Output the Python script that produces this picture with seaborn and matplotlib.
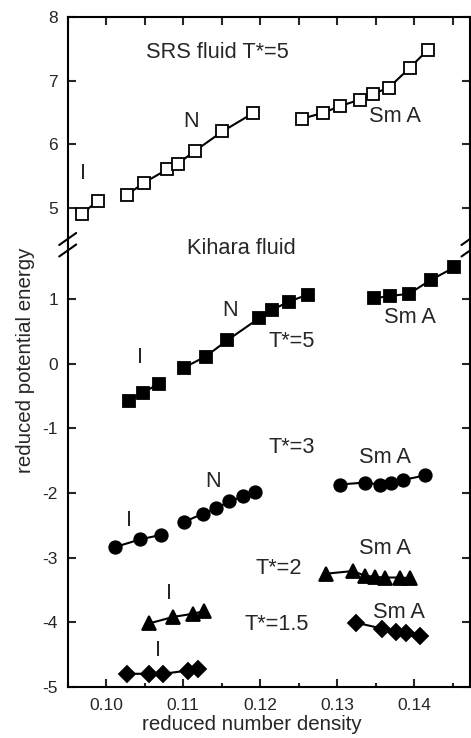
import numpy as np
import pandas as pd
import matplotlib
matplotlib.use("Agg")
import matplotlib.pyplot as plt
import seaborn as sns
from matplotlib.lines import Line2D
from matplotlib.ticker import MultipleLocator

# ---------------- data ----------------
# SRS fluid, T*=5 (open squares)
srs_I_x = [0.0968, 0.0989]
srs_I_y = [4.90, 5.10]
srs_N_x = [0.1027, 0.1049, 0.1079, 0.1093, 0.1115, 0.1151, 0.1191]
srs_N_y = [5.20, 5.39, 5.60, 5.69, 5.89, 6.20, 6.49]
srs_S_x = [0.1254, 0.1281, 0.1304, 0.1329, 0.1346, 0.1367, 0.1394, 0.1418]
srs_S_y = [6.40, 6.49, 6.60, 6.70, 6.79, 6.89, 7.20, 7.49]

# Kihara fluid, T*=5 (filled squares)
k5_I_x = [0.1029, 0.1048, 0.1068]
k5_I_y = [-0.57, -0.45, -0.31]
k5_N_x = [0.1101, 0.1129, 0.1157, 0.1198, 0.1215, 0.1237, 0.1262]
k5_N_y = [-0.06, 0.11, 0.36, 0.70, 0.83, 0.96, 1.07]
k5_S_x = [0.1348, 0.1368, 0.1393, 0.1422, 0.1452]
k5_S_y = [1.01, 1.05, 1.08, 1.30, 1.49]

# Kihara fluid, T*=3 (circles)
k3_I_x = [0.1011, 0.1044, 0.1071]
k3_I_y = [-2.84, -2.72, -2.65]
k3_N_x = [0.1101, 0.1126, 0.1143, 0.1160, 0.1178, 0.1193]
k3_N_y = [-2.45, -2.32, -2.24, -2.13, -2.05, -1.99]
k3_S_x = [0.1303, 0.1336, 0.1355, 0.1370, 0.1385, 0.1414]
k3_S_y = [-1.87, -1.84, -1.87, -1.85, -1.80, -1.73]

# Kihara fluid, T*=2 (triangles)
k2_I_x = [0.1056, 0.1087, 0.1113, 0.1127]
k2_I_y = [-4.02, -3.92, -3.87, -3.83]
k2_S_x = [0.1286, 0.1320, 0.1336, 0.1349, 0.1362, 0.1381, 0.1395]
k2_S_y = [-3.25, -3.21, -3.28, -3.30, -3.31, -3.31, -3.32]

# Kihara fluid, T*=1.5 (diamonds)
k15_I_x = [0.1027, 0.1055, 0.1074, 0.1106, 0.1119]
k15_I_y = [-4.80, -4.80, -4.80, -4.75, -4.72]
k15_S_x = [0.1325, 0.1358, 0.1376, 0.1389, 0.1407]
k15_S_y = [-4.01, -4.10, -4.15, -4.17, -4.22]

x_ticks = [0.10, 0.11, 0.12, 0.13, 0.14]
x_ticklabels = ["0.10", "0.11", "0.12", "0.13", "0.14"]
top_yticks = [5, 6, 7, 8]
bot_yticks = [-5, -4, -3, -2, -1, 0, 1]

# ---------------- style ----------------
sns.set_style("ticks")
plt.rcParams["font.family"] = ["Liberation Sans", "DejaVu Sans"]

W, H = 471, 738
fig = plt.figure(figsize=(W / 100, H / 100), dpi=100)

left_px, right_px = 67.7, 470.0
top_px, break_px, bottom_px = 17.3, 244.0, 686.7
l = left_px / W
w = (right_px - left_px) / W
ax_top = fig.add_axes([l, 1 - break_px / H, w, (break_px - top_px) / H])
ax_bot = fig.add_axes([l, 1 - bottom_px / H, w, (bottom_px - break_px) / H])

xlim = (0.095, 0.095 + (right_px - left_px) / 7700)
ax_top.set_xlim(*xlim)
ax_bot.set_xlim(*xlim)
ax_top.set_ylim(8 - (break_px - top_px) / 63.4, 8)
ax_bot.set_ylim(-5, -5 + (bottom_px - break_px) / 64.6)

lw = 1.5
ms = 8.5


def draw(ax, xs, ys, marker, face, size=ms):
    sns.lineplot(x=xs, y=ys, ax=ax, sort=False, estimator=None,
                 color="black", linewidth=lw, marker=marker,
                 markersize=size, markerfacecolor=face,
                 markeredgecolor="black", markeredgewidth=1.3)


for xs, ys in [(srs_I_x, srs_I_y), (srs_N_x, srs_N_y), (srs_S_x, srs_S_y)]:
    draw(ax_top, xs, ys, "s", "white")
for xs, ys in [(k5_I_x, k5_I_y), (k5_N_x, k5_N_y), (k5_S_x, k5_S_y)]:
    draw(ax_bot, xs, ys, "s", "black")
for xs, ys in [(k3_I_x, k3_I_y), (k3_N_x, k3_N_y), (k3_S_x, k3_S_y)]:
    draw(ax_bot, xs, ys, "o", "black", 9)
for xs, ys in [(k2_I_x, k2_I_y), (k2_S_x, k2_S_y)]:
    draw(ax_bot, xs, ys, "^", "black", 9.5)
for xs, ys in [(k15_I_x, k15_I_y), (k15_S_x, k15_S_y)]:
    draw(ax_bot, xs, ys, "D", "black", 8)

# ---------------- axes styling ----------------
tick_fs = 12.5
for ax in (ax_top, ax_bot):
    for s in ax.spines.values():
        s.set_linewidth(1.5)
        s.set_color("black")
    ax.set_xlabel("")
    ax.set_ylabel("")
    ax.set_xticks(x_ticks)
    ax.xaxis.set_minor_locator(MultipleLocator(0.005))

ax_top.spines["bottom"].set_visible(False)
ax_bot.spines["top"].set_visible(False)

ax_top.set_yticks(top_yticks)
ax_bot.set_yticks(bot_yticks)
ax_top.set_yticklabels([str(v) for v in top_yticks], fontsize=tick_fs)
ax_bot.set_yticklabels([str(v) for v in bot_yticks], fontsize=tick_fs)

ax_top.tick_params(axis="x", which="both", direction="in", top=True, bottom=False,
                   labeltop=False, labelbottom=False, length=5.5, width=1.5)
ax_bot.tick_params(axis="x", which="major", direction="in", top=False, bottom=True,
                   labelbottom=True, length=5.5, width=1.5, labelsize=tick_fs, pad=8)
ax_bot.tick_params(axis="x", which="minor", direction="in", top=False, bottom=True,
                   length=3, width=1.5)
ax_bot.set_xticklabels(x_ticklabels)
for ax in (ax_top, ax_bot):
    ax.tick_params(axis="y", which="major", direction="in", left=True, right=True,
                   labelleft=True, labelright=False, length=5.5, width=1.5, pad=7)

# axis labels
lab_fs = 14.8
fig.text(252 / W, 1 - 725 / H, "reduced number density", ha="center", va="center",
         fontsize=lab_fs)
fig.text(26 / W, 1 - 360 / H, "reduced potential energy", ha="center", va="center",
         rotation=90, fontsize=lab_fs)

# break marks
for xpx in (left_px, right_px):
    for ypx in (239.0, 250.5):
        x0, x1 = (xpx - 8.5) / W, (xpx + 8.5) / W
        y0, y1 = 1 - (ypx + 6) / H, 1 - (ypx - 6) / H
        fig.add_artist(Line2D([x0, x1], [y0, y1], color="black", lw=1.5))

# annotations
ann_fs = 15.7
def ann(ax, x, y, s):
    ax.text(x, y, s, ha="center", va="center", fontsize=ann_fs)

ann(ax_top, 0.1144, 7.44, "SRS fluid T*=5")
ann(ax_top, 0.0970, 5.54, "I")
ann(ax_top, 0.1110, 6.35, "N")
ann(ax_top, 0.1375, 6.44, "Sm A")

ann(ax_bot, 0.1176, 1.78, "Kihara fluid")
ann(ax_bot, 0.1044, 0.09, "I")
ann(ax_bot, 0.1161, 0.83, "N")
ann(ax_bot, 0.1241, 0.35, "T*=5")
ann(ax_bot, 0.1395, 0.71, "Sm A")

ann(ax_bot, 0.1030, -2.43, "I")
ann(ax_bot, 0.1139, -1.83, "N")
ann(ax_bot, 0.1241, -1.29, "T*=3")
ann(ax_bot, 0.1362, -1.45, "Sm A")

ann(ax_bot, 0.1082, -3.56, "I")
ann(ax_bot, 0.1224, -3.17, "T*=2")
ann(ax_bot, 0.1362, -2.86, "Sm A")

ann(ax_bot, 0.1067, -4.44, "I")
ann(ax_bot, 0.1222, -4.04, "T*=1.5")
ann(ax_bot, 0.1380, -3.85, "Sm A")

fig.savefig("out.png", dpi=100)
